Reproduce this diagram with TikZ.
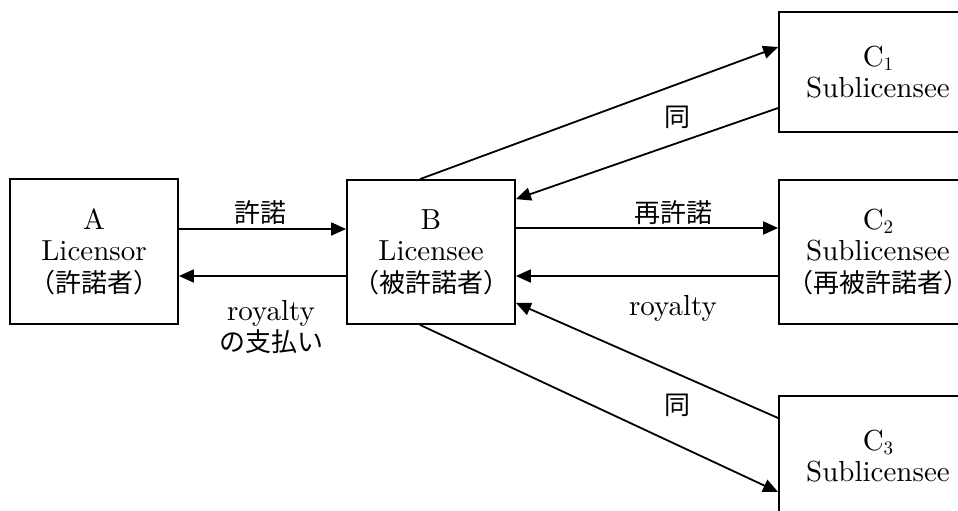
\documentclass[tikz,border=0pt]{standalone}
\usepackage{fontspec}
\setmainfont{lmroman10-regular.otf}
\newfontfamily\jp{Noto Sans CJK JP}
\usetikzlibrary{arrows.meta,calc}
\newcommand\J[1]{{\jp\fontsize{26}{31.5}\selectfont #1}}
\newcommand\subnum[1]{\raisebox{-4pt}{\fontsize{19}{19}\selectfont #1}}
\begin{document}
\begin{tikzpicture}[x=1pt,y=-1pt,
  box/.style={draw,line width=1.8pt,align=center,font=\fontsize{29}{31.5}\selectfont,inner sep=0pt},
  arr/.style={line width=1.8pt,-{Triangle[length=15pt,width=13pt]}},
  lbl/.style={font=\fontsize{29}{31.5}\selectfont,align=center,inner sep=0pt}]
\useasboundingbox (0,0) rectangle (958,511);
\clip (0,0) rectangle (958,511);
\node[box,minimum width=168pt,minimum height=145pt] (A) at (94,251.5) {A\\Licensor\\\J{（許諾者）}};
\node[box,minimum width=168pt,minimum height=144pt] (B) at (431,252) {B\\Licensee\\\J{（被許諾者）}};
\node[box,minimum width=198pt,minimum height=120pt] (C1) at (878,72) {C\subnum{1}\\Sublicensee};
\node[box,minimum width=198pt,minimum height=144pt] (C2) at (878,252) {C\subnum{2}\\Sublicensee\\\J{（再被許諾者）}};
\node[box,minimum width=198pt,minimum height=120pt] (C3) at (878,456) {C\subnum{3}\\Sublicensee};
% A <-> B
\draw[arr] ($(A.east)+(0,-22.5)$) -- ($(B.west)+(0,-23)$);
\draw[arr] ($(B.west)+(0,24)$) -- ($(A.east)+(0,24.5)$);
% B <-> C2
\draw[arr] ($(B.east)+(0,-24)$) -- ($(C2.west)+(0,-24)$);
\draw[arr] ($(C2.west)+(0,24)$) -- ($(B.east)+(0,24)$);
% B <-> C1
\draw[arr] ($(B.north)+(-11,0)$) -- ($(C1.west)+(0,-25)$);
\draw[arr] ($(C1.west)+(0,36)$) -- ($(B.north east)+(0,20)$);
% B <-> C3
\draw[arr] ($(C3.west)+(0,-38)$) -- ($(B.south east)+(0,-22)$);
\draw[arr] ($(B.south)+(-11,0)$) -- ($(C3.west)+(0,36)$);
% labels
\node[lbl] (l1) at (260,213) {\J{許諾}};
\node[lbl] (l2) at (271,327) {royalty\\\J{の支払い}};
\node[lbl] (l3) at (673,213) {\J{再許諾}};
\node[lbl] (l4) at (673,308) {royalty};
\node[lbl] (l5) at (677,117) {\J{同}};
\node[lbl] (l6) at (677,405) {\J{同}};
\end{tikzpicture}
\end{document}
